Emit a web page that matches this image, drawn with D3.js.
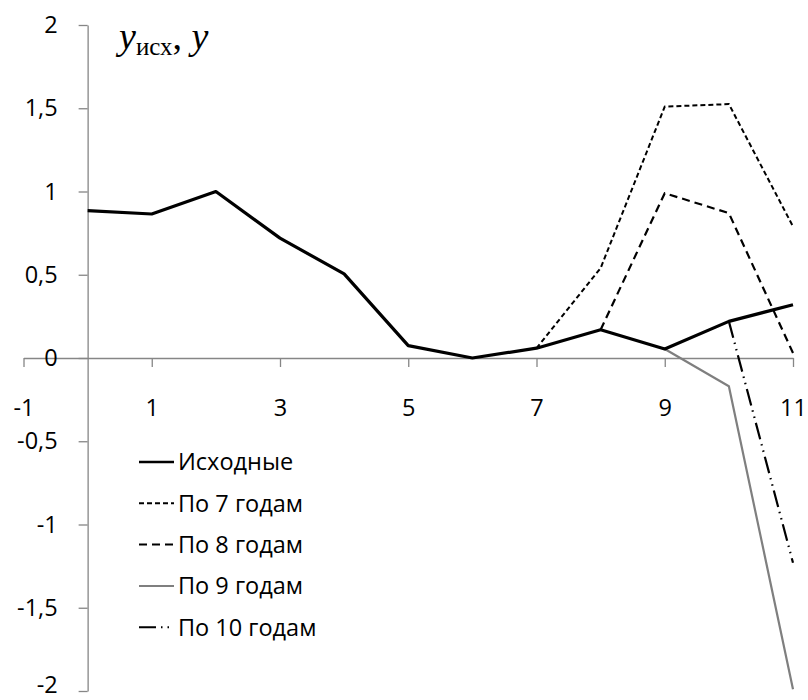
<!DOCTYPE html>
<html>
<head>
<meta charset="utf-8">
<script src="https://cdn.jsdelivr.net/npm/d3@7"></script>
<style>
	body { margin: 0; background: #fff; }
	.axes path, .axes line { stroke: #868686; stroke-width: 1.3; }
	.axes text { font-family: "Open Sans", sans-serif; font-size: 23.5px; fill: #000; }
</style>
</head>
<body>
<div id="chart"><svg width="808" height="700"></svg></div>
<script>
//chart data
var xTicks = [-1, 1, 3, 5, 7, 9, 11];
var yTicks = [-2, -1.5, -1, -0.5, 0, 0.5, 1, 1.5, 2];

var seriesNames = ["Исходные", "По 7 годам", "По 8 годам", "По 9 годам", "По 10 годам"];

var baseYears = [0, 1, 2, 3, 4, 5, 6, 7, 8, 9, 10, 11];
var baseValues = [0.885, 0.865, 1.0, 0.72, 0.505, 0.074, 0.0, 0.059, 0.17, 0.054, 0.22, 0.32];

var by7Years = [7, 8, 9, 10, 11];
var by7Values = [0.059, 0.54, 1.51, 1.525, 0.79];

var by8Years = [8, 9, 10, 11];
var by8Values = [0.17, 0.99, 0.87, 0.03];

var by9Years = [9, 10, 11];
var by9Values = [0.054, -0.17, -1.99];

var by10Years = [10, 11];
var by10Values = [0.22, -1.23];

var svg = d3.select("#chart").select("svg");

var xScale = d3.scaleLinear()
				.domain([-1, 11])
				.range([23.5, 793]);

var yScale = d3.scaleLinear()
				.domain([-2, 2])
				.range([691, 25]);

var ru = d3.formatLocale({decimal: ",", thousands: " ", grouping: [3], currency: ["", ""], minus: "-"});
var fmt = ru.format("~g");

var xAxis = d3.axisBottom(xScale)
				.tickValues(xTicks)
				.tickSize(9)
				.tickSizeOuter(0)
				.tickPadding(32)
				.tickFormat(fmt);

var yAxis = d3.axisLeft(yScale)
				.tickValues(yTicks)
				.tickSize(9)
				.tickSizeOuter(0)
				.tickPadding(21)
				.tickFormat(fmt);

svg.append('g')
		.attr('transform', 'translate(0,' + yScale(0) + ')')
		.call(xAxis)
		.classed('axes', true);

var yAxisG = svg.append('g')
		.attr('transform', 'translate(' + xScale(0) + ',0)')
		.call(yAxis)
		.classed('axes', true);

// keep the bottom label inside the picture
yAxisG.selectAll('.tick text')
		.filter(d => d == -2)
		.attr('dy', '0.08em');

//series styles
var styles = [
	{color: '#000', width: 3.2, dash: null},
	{color: '#000', width: 2, dash: '5,3'},
	{color: '#000', width: 2.2, dash: '8,5'},
	{color: '#7f7f7f', width: 2.2, dash: null},
	{color: '#000', width: 2.2, dash: '17,5,1.5,5,1.5,5'}
];

var series = [
	{years: baseYears, values: baseValues},
	{years: by7Years, values: by7Values},
	{years: by8Years, values: by8Values},
	{years: by9Years, values: by9Values},
	{years: by10Years, values: by10Values}
];

var line = d3.line()
				.x(d => xScale(d[0]))
				.y(d => yScale(d[1]));

// draw forecasts first so the base line sits on top
[4, 3, 2, 1, 0].forEach(function(i){
	var pts = series[i].years.map((y, k) => [y, series[i].values[k]]);
	svg.append('path')
		.attr('d', line(pts))
		.attr('fill', 'none')
		.attr('stroke', styles[i].color)
		.attr('stroke-width', styles[i].width)
		.attr('stroke-dasharray', styles[i].dash)
		.attr('stroke-linejoin', 'round');
});

//legend
var legend = svg.append('g')
				.attr('transform', 'translate(139,462)');

seriesNames.forEach(function(name, i){
	var row = legend.append('g')
					.attr('transform', 'translate(0,' + (i * 41.3) + ')');
	row.append('line')
		.attr('x1', 0)
		.attr('x2', 35)
		.attr('y1', 0)
		.attr('y2', 0)
		.attr('stroke', styles[i].color)
		.attr('stroke-width', i == 0 ? 2.5 : 2)
		.attr('stroke-dasharray', styles[i].dash);
	row.append('text')
		.attr('x', 39)
		.attr('y', 0)
		.attr('dy', '0.36em')
		.attr('font-family', '"Open Sans", sans-serif')
		.attr('font-size', '23.5px')
		.text(name);
});

//axis title
var title = svg.append('text')
				.attr('x', 119)
				.attr('y', 48.5)
				.attr('font-family', '"Liberation Serif", serif')
				.attr('font-size', '38px');

title.append('tspan').attr('font-style', 'italic').text('y');
title.append('tspan').attr('font-size', '25px').attr('dy', 6.5).text('исх');
title.append('tspan').attr('dy', -6.5).text(', ');
title.append('tspan').attr('font-style', 'italic').text('y');
</script>
</body>
</html>
